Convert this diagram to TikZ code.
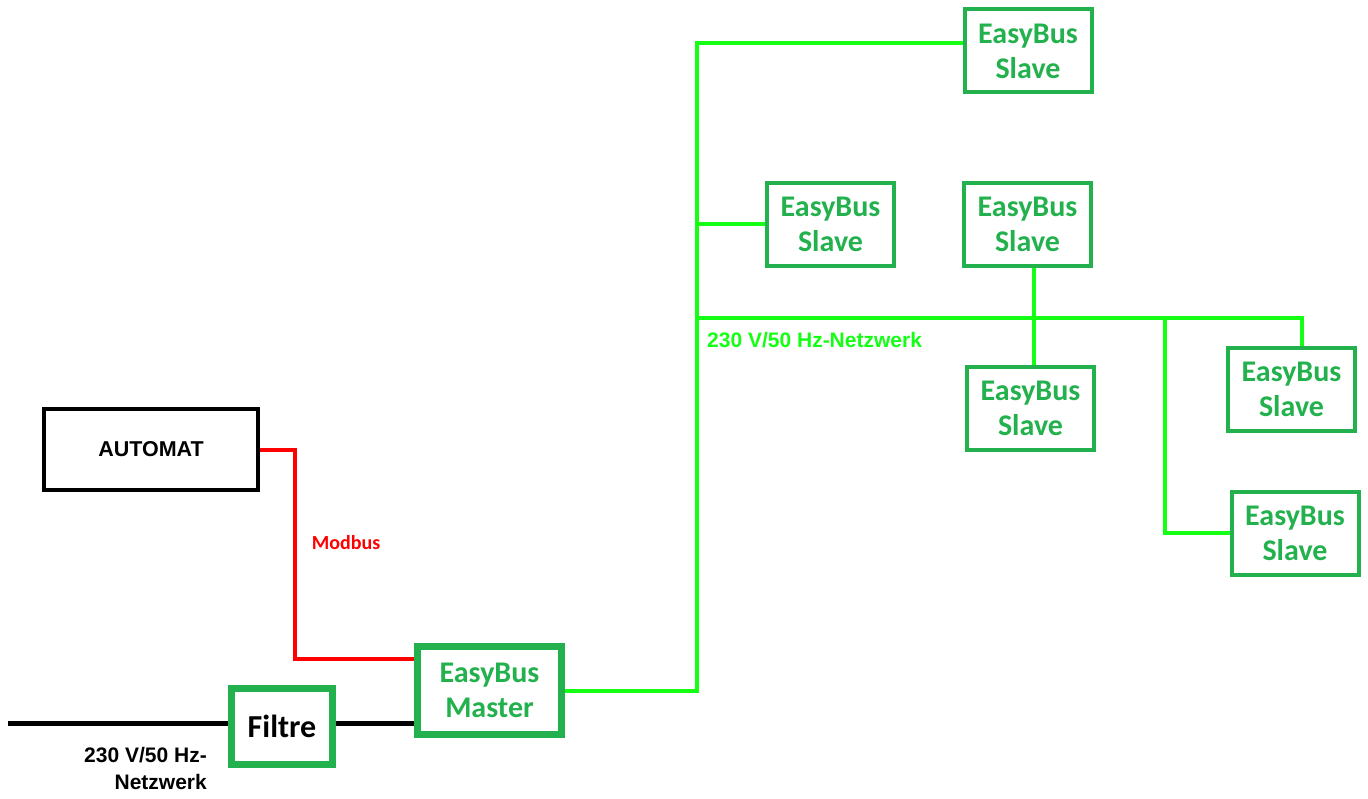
\documentclass[tikz,border=0pt]{standalone}
\usepackage{fontspec}
\usetikzlibrary{positioning,calc}
\newfontfamily\calib{Carlito}
\newfontfamily\arial{Liberation Sans}
\definecolor{boxgreen}{HTML}{22B14C}
\definecolor{busgreen}{HTML}{14FF14}
\definecolor{modred}{HTML}{FF0000}
\tikzset{slave/.style={draw=boxgreen,line width=4pt,align=center,text=boxgreen,
  minimum width=127pt,minimum height=83pt,inner sep=0pt,
  font=\calib\bfseries\fontsize{30}{35}\selectfont},
  master/.style={slave,line width=7pt,minimum width=144pt,minimum height=88pt},
  filter/.style={draw=boxgreen,line width=7pt,minimum width=101pt,minimum height=76pt,
  inner sep=0pt,font=\calib\bfseries\fontsize{32}{36}\selectfont},
  plc/.style={draw=black,line width=4pt,minimum width=214pt,minimum height=81pt,
  inner sep=0pt,font=\arial\bfseries\fontsize{21.5}{24}\selectfont},
  bus/.style={draw=busgreen,line width=4pt},
  modbus/.style={draw=modred,line width=4pt},
  mains/.style={draw=black,line width=5pt},
  lbl/.style={inner sep=0pt,font=\arial\bfseries\fontsize{21}{27}\selectfont}}
\begin{document}
\begin{tikzpicture}[x=1pt,y=-1pt]
\useasboundingbox (0,0) rectangle (1368,799);
\node[plc] (automat) at (151,449.5) {AUTOMAT};
\node[filter] (filtre) at (282,726.5) {Filtre};
\node[master] (master) at (489.5,690.5) {EasyBus\\Master};
\node[slave] (s1) at (1028,51) {EasyBus\\Slave};
\node[slave] (s2) at (830.5,224.5) {EasyBus\\Slave};
\node[slave] (s3) at (1027.5,224.5) {EasyBus\\Slave};
\node[slave] (s4) at (1030.5,408.5) {EasyBus\\Slave};
\node[slave] (s5) at (1291.5,389.5) {EasyBus\\Slave};
\node[slave] (s6) at (1295,533) {EasyBus\\Slave};
% bus taps
\coordinate (bustop) at (697,43);
\coordinate (busmid) at (697,318);
\coordinate (drop) at (1034,318);
\coordinate (tap6) at (1165,318);
\coordinate (tap5) at (1302,318);
\coordinate (mbend) at (295,659);
\coordinate (mains) at (8,723);
\draw[bus] (master.east) -- (master.east -| bustop) -- (bustop) -- (bustop -| s1.west);
\draw[bus] (s2.west -| bustop) -- (s2.west);
\draw[bus] (busmid) -- (tap5) -- (tap5 |- s5.north);
\draw[bus] (drop |- s3.south) -- (drop |- s4.north);
\draw[bus] (tap6) |- (s6.west);
\draw[modbus] (automat.east) -| (mbend) -- (mbend -| master.west);
\draw[mains] (mains) -- (mains -| filtre.west);
\draw[mains] (mains -| filtre.east) -- (mains -| master.west);
\node[lbl,text=modred,font=\calib\bfseries\fontsize{20}{24}\selectfont] (modlbl) at (346,543) {Modbus};
\node[lbl,text=busgreen,anchor=west] (netlbl) at (707,340) {230 V/50 Hz-Netzwerk};
\node[lbl,align=right,anchor=east] (mainslbl) at (207,768.5) {230 V/50 Hz-\\Netzwerk};
\end{tikzpicture}
\end{document}
